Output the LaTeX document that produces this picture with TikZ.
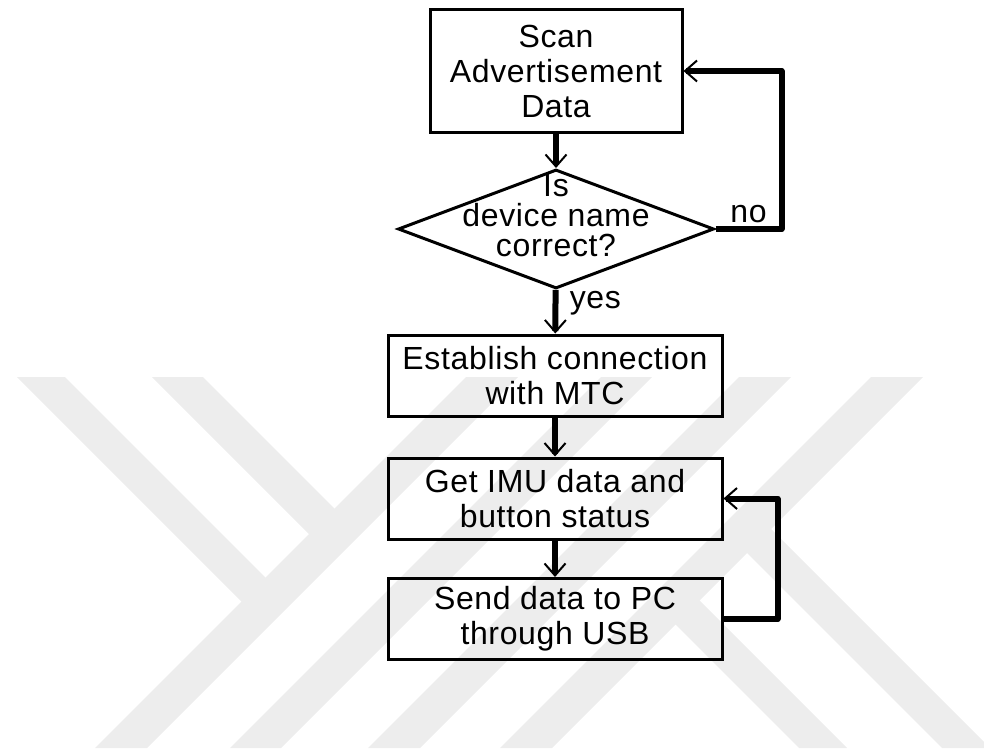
\documentclass[tikz,border=0pt]{standalone}
\usepackage{fontspec}
\setmainfont[LetterSpace=2]{Liberation Sans}
\usetikzlibrary{shapes.geometric,arrows.meta}
\definecolor{wmgray}{RGB}{237,237,237}
\begin{document}
\begin{tikzpicture}[x=1pt,y=-1pt,
  font=\fontsize{32}{35}\selectfont,
  procbox/.style={draw,line width=3pt,minimum width=334pt,minimum height=81pt,align=center,inner sep=0pt},
  decision/.style={draw,diamond,line width=3pt,minimum width=316pt,minimum height=119pt,inner sep=0pt},
  flowline/.style={line width=6pt,line join=round,-{Straight Barb[length=12pt,width=21pt,line width'=2pt]}}]

\useasboundingbox (0,0) rectangle (984,749);

\begin{scope}
\clip (0,0) rectangle (984,749);
\fill[wmgray] (95,748) -- (147,748) -- (518,377) -- (466,377) -- cycle;
\fill[wmgray] (230,748) -- (281,748) -- (652,377) -- (601,377) -- cycle;
\fill[wmgray] (368,748) -- (420,748) -- (791,377) -- (739,377) -- cycle;
\fill[wmgray] (500,748) -- (552,748) -- (923,377) -- (871,377) -- cycle;
\fill[wmgray] (17,377) -- (65,377) -- (279,591) -- (255,615) -- cycle;
\fill[wmgray] (152,377) -- (203,377) -- (348,522) -- (322.5,547.5) -- cycle;
\fill[wmgray] (663,612) -- (687,588) -- (847,748) -- (799,748) -- cycle;
\fill[wmgray] (734.5,540.5) -- (758.5,516.5) -- (990,748) -- (942,748) -- cycle;
\end{scope}

\node[procbox,minimum width=252pt,minimum height=122pt] (scan) at (556,71) {Scan\\Advertisement\\Data};
\node[decision] (check) at (556,229) {};
\node[align=center,font=\fontsize{32}{30}\selectfont] (question) at (556,216) {Is\\device name\\correct?};
\node[procbox] (connect) at (555,375.5) {Establish connection\\with MTC};
\node[procbox] (imu) at (555,498.5) {Get IMU data and\\button status};
\node[procbox] (send) at (555,619) {Send data to PC\\through USB};

\draw[flowline] (scan) -- (check);
\draw[flowline] (check.east) -- ++(66,0) node[midway,above] (nolabel) {no} |- (scan.east);
\draw[flowline] (check) -- node[pos=0.3,right=8pt] (yeslabel) {yes} (connect);
\draw[flowline] (connect) -- (imu);
\draw[flowline] (imu) -- (send);
\draw[flowline] (send.east) -- ++(54,0) |- (imu.east);

\end{tikzpicture}
\end{document}
